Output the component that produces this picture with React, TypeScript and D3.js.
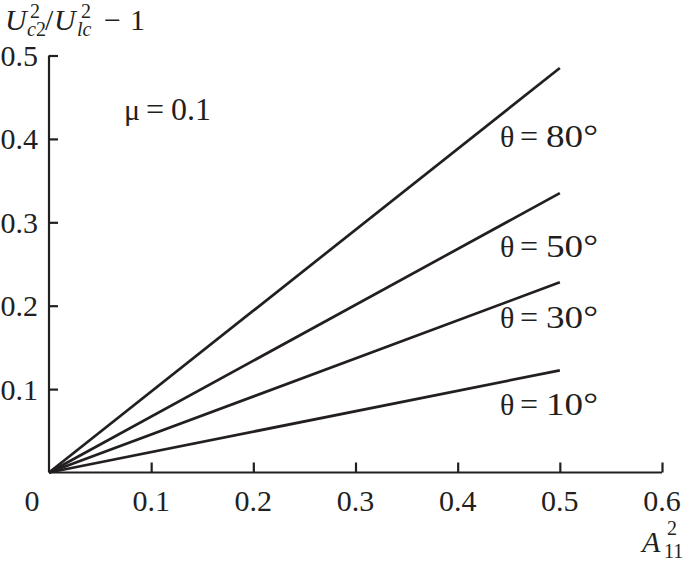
import React, { useEffect, useRef } from "react";
import * as d3 from "d3";

const xTicks = [0.1, 0.2, 0.3, 0.4, 0.5, 0.6];
const yTicks = [0.1, 0.2, 0.3, 0.4, 0.5];
const thetas = ["80", "50", "30", "10"];
const lineX = [0, 0.5];
const line80 = [0, 0.485];
const line50 = [0, 0.335];
const line30 = [0, 0.228];
const line10 = [0, 0.1225];

const App = () => {
  const ref = useRef<SVGSVGElement>(null);

  useEffect(() => {
    const svg = d3.select(ref.current);
    svg.selectAll("*").remove();
    const width = 685;
    const height = 568;
    const font = "'Liberation Serif', 'Times New Roman', serif";
    const ink = "#231f20";

    svg.attr("width", width).attr("height", height);

    const x = d3.scaleLinear().domain([0, 0.6]).range([49, 662]);
    const y = d3.scaleLinear().domain([0, 0.5]).range([472.5, 55.5]);

    // lines
    const series = [line80, line50, line30, line10];
    const lineGen = d3
      .line<number>()
      .x((d, i) => x(lineX[i]))
      .y((d) => y(d));
    svg
      .selectAll(".series")
      .data(series)
      .enter()
      .append("path")
      .attr("class", "series")
      .attr("d", (d) => lineGen(d))
      .attr("fill", "none")
      .attr("stroke", ink)
      .attr("stroke-width", 2.7);

    // axes
    const xAxis = d3.axisBottom(x).tickValues(xTicks).tickSize(-10).tickFormat(() => "");
    const yAxis = d3.axisLeft(y).tickValues(yTicks).tickSize(-9).tickFormat(() => "");
    const gx = svg.append("g").attr("transform", `translate(0,${y(0)})`).call(xAxis);
    const gy = svg.append("g").attr("transform", `translate(${x(0)},0)`).call(yAxis);
    [gx, gy].forEach((g) => {
      g.select(".domain").attr("stroke", ink).attr("stroke-width", 2.2);
      g.selectAll(".tick line").attr("stroke", ink).attr("stroke-width", 2.2);
    });
    gx.select(".domain").attr("d", `M${x(0)},0H${x(0.6)}`);
    gy.select(".domain").attr("d", `M0,${y(0)}V${y(0.5)}`);

    const text = (g: any, size = 30) =>
      g.attr("font-family", font).attr("font-size", size).attr("fill", ink);

    // tick labels
    svg
      .selectAll(".xl")
      .data(xTicks)
      .enter()
      .append("text")
      .attr("class", "xl")
      .attr("x", (d) => x(d))
      .attr("y", 511)
      .attr("text-anchor", "middle")
      .text((d) => d3.format(".1f")(d))
      .call(text);
    svg
      .append("text")
      .attr("x", 32)
      .attr("y", 511)
      .attr("text-anchor", "middle")
      .text("0")
      .call(text);
    svg
      .selectAll(".yl")
      .data(yTicks)
      .enter()
      .append("text")
      .attr("class", "yl")
      .attr("x", 38)
      .attr("y", (d) => y(d) + 10.5)
      .attr("text-anchor", "end")
      .text((d) => d3.format(".1f")(d))
      .call(text);

    // theta labels
    const labelY = [147, 257, 328, 415];
    const th = svg
      .selectAll(".th")
      .data(thetas)
      .enter()
      .append("g")
      .attr("class", "th")
      .attr("transform", (d, i) => `translate(0,${labelY[i]})`);
    th.append("text").attr("x", 500).text("θ").call(text, 30);
    th.append("text").attr("x", 529).attr("text-anchor", "middle").text("=").call(text, 32);
    th.append("text").attr("x", 546).attr("textLength", 52).attr("lengthAdjust", "spacingAndGlyphs").text((d) => `${d}°`).call(text, 31);

    const mu = svg.append("g").attr("transform", "translate(0,120)");
    mu.append("text").attr("x", 124).text("μ").call(text, 30);
    mu.append("text").attr("x", 155).attr("text-anchor", "middle").text("=").call(text, 32);
    mu.append("text").attr("x", 171).attr("textLength", 40).attr("lengthAdjust", "spacingAndGlyphs").text("0.1").call(text, 31);

    // y title
    const tt = svg.append("g");
    tt.append("text").attr("x", 5).attr("y", 30).attr("font-style", "italic").text("U").call(text, 30);
    tt.append("text").attr("x", 27).attr("y", 36).attr("font-style", "italic").text("c").call(text, 20);
    tt.append("text").attr("x", 36).attr("y", 36).text("2").call(text, 20);
    tt.append("text").attr("x", 30).attr("y", 18).text("2").call(text, 20);
    tt.append("text").attr("x", 45).attr("y", 30).text("/").call(text, 30);
    tt.append("text").attr("x", 54).attr("y", 30).attr("font-style", "italic").text("U").call(text, 30);
    tt.append("text").attr("x", 77).attr("y", 36).attr("font-style", "italic").text("lc").call(text, 20);
    tt.append("text").attr("x", 81).attr("y", 18).text("2").call(text, 20);
    tt.append("text").attr("x", 104).attr("y", 30).text("−").call(text, 30);
    tt.append("text").attr("x", 130).attr("y", 30).text("1").call(text, 30);

    // x title
    const xt = svg.append("g");
    xt.append("text").attr("x", 642).attr("y", 552).attr("font-style", "italic").text("A").call(text, 30);
    xt.append("text").attr("x", 664).attr("y", 558).text("11").call(text, 20);
    xt.append("text").attr("x", 667).attr("y", 535).text("2").call(text, 20);
  }, []);

  return (
    <svg
      ref={ref}
      style={{ position: "absolute", left: 0, top: 0, background: "#fff" }}
    ></svg>
  );
};

export default App;
